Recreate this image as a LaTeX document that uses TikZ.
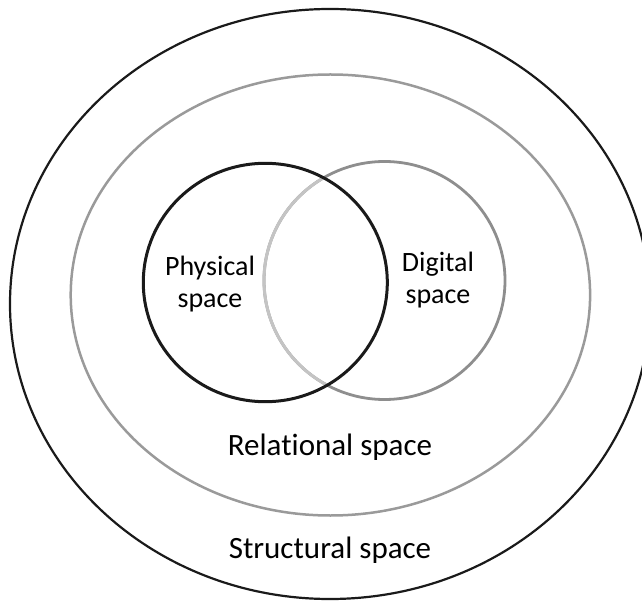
\documentclass[tikz,border=0pt]{standalone}
\usepackage{fontspec}
\setmainfont{Carlito}[Ligatures={NoCommon}]
\definecolor{darkline}{HTML}{1A1A1A}
\definecolor{midgray}{HTML}{9A9A9A}
\definecolor{diggray}{HTML}{8E8E8E}
\definecolor{lightgray}{HTML}{C4C4C4}
\begin{document}
\begin{tikzpicture}[x=1pt,y=-1pt,
  ring/.style={line width=2.2pt},
  innerlabel/.style={font=\fontsize{28}{31.7}\selectfont, align=center, inner sep=0pt, text=black},
  outerlabel/.style={font=\fontsize{31}{36}\selectfont, inner sep=0pt, anchor=base, text=black}]
\useasboundingbox (0,0) rectangle (642,601);
% outer (structural) ellipse
\draw[ring, darkline] (330,304) ellipse [x radius=320, y radius=295];
% middle (relational) ellipse
\draw[ring, midgray, line width=2.5pt] (330.4,295) ellipse [x radius=259.7, y radius=220.5];
% digital circle
\coordinate (dig) at (384.5,280.5);
\coordinate (phy) at (265.3,282.5);
\draw[diggray, line width=2.8pt] (dig) ellipse [x radius=120.5, y radius=119];
\begin{scope}
  \clip (phy) ellipse [x radius=121, y radius=118];
  \draw[lightgray, line width=3pt] (dig) ellipse [x radius=120.5, y radius=119];
\end{scope}
% physical circle
\draw[darkline, line width=3pt] (phy) ellipse [x radius=122, y radius=119.2];
% labels
\node[innerlabel] (physical) at (210,284) {Physical\\space};
\node[innerlabel] (digital) at (438,280) {Digital\\space};
\node[outerlabel] (relational) at (330,455) {Relational space};
\node[outerlabel] (structural) at (330,558) {Structural space};
\end{tikzpicture}
\end{document}
